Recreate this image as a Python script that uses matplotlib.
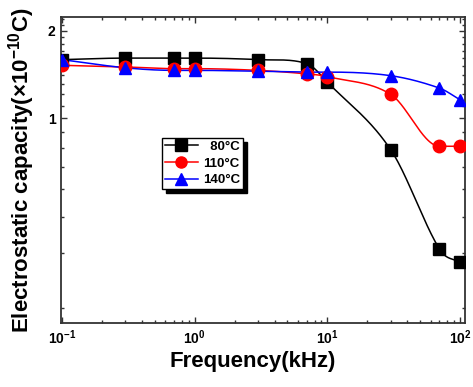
import numpy as np
import matplotlib
matplotlib.use("Agg")
import matplotlib.pyplot as plt
from matplotlib.ticker import FixedLocator, FixedFormatter, NullFormatter

# ---- data ----
freq = [0.1, 0.3, 0.7, 1, 3, 7, 10, 30, 70, 100]
c80 = [1.58, 1.60, 1.60, 1.60, 1.58, 1.53, 1.32, 0.79, 0.41, 0.38]
c110 = [1.51, 1.49, 1.47, 1.47, 1.45, 1.41, 1.38, 1.20, 0.81, 0.81]
c140 = [1.58, 1.48, 1.45, 1.45, 1.44, 1.43, 1.43, 1.39, 1.26, 1.15]
labels = ["  80°C", "110°C", "140°C"]
colors = ["#000000", "#ff0000", "#0000ff"]
markers = ["s", "o", "^"]
xticks_major = [0.1, 1, 10, 100]
xtick_labels = [r"$\mathbf{10^{-1}}$", r"$\mathbf{10^{0}}$", r"$\mathbf{10^{1}}$", r"$\mathbf{10^{2}}$"]
yticks_major = [1, 2]
ytick_labels = ["1", "2"]

plt.rcParams['font.family'] = ['Liberation Sans', 'DejaVu Sans']
plt.rcParams['mathtext.fontset'] = 'custom'
plt.rcParams['mathtext.rm'] = 'Liberation Sans:bold'
plt.rcParams['mathtext.bf'] = 'Liberation Sans:bold'
plt.rcParams['mathtext.it'] = 'Liberation Sans:bold'
plt.rcParams['mathtext.default'] = 'bf'

OFF = 0.14


def fwd(v):
    v = np.asarray(v, dtype=float)
    return np.log10(np.maximum(v - OFF, 1e-9))


def inv(t):
    return 10 ** np.asarray(t, dtype=float) + OFF


def smooth(x, y, xn):
    """Hermite curve through the points (Catmull-Rom tangents, no overshoot)."""
    x = np.asarray(x, float)
    y = np.asarray(y, float)
    h = np.diff(x)
    d = np.diff(y) / h
    n = len(x)
    m = np.zeros(n)
    for k in range(1, n - 1):
        if d[k - 1] * d[k] > 0:
            m[k] = (y[k + 1] - y[k - 1]) / (x[k + 1] - x[k - 1])
    m[0] = d[0]
    m[-1] = d[-1]
    out = np.empty_like(xn)
    idx = np.clip(np.searchsorted(x, xn) - 1, 0, n - 2)
    for i, xv in enumerate(xn):
        k = idx[i]
        t = (xv - x[k]) / h[k]
        h00 = 2 * t**3 - 3 * t**2 + 1
        h10 = t**3 - 2 * t**2 + t
        h01 = -2 * t**3 + 3 * t**2
        h11 = t**3 - t**2
        out[i] = h00 * y[k] + h10 * h[k] * m[k] + h01 * y[k + 1] + h11 * h[k] * m[k + 1]
    return out


fig = plt.figure(figsize=(4.73, 3.87), dpi=100)
ax = fig.add_axes([61 / 473, 64 / 387, 404 / 473, 306 / 387])
ax.set_xscale('log')
ax.set_yscale('function', functions=(fwd, inv))

lx = np.log10(freq)
xs = np.linspace(lx[0], lx[-1], 400)
for ys, lab, col, mk in zip([c80, c110, c140], labels, colors, markers):
    curve = inv(smooth(lx, fwd(ys), xs))
    ax.plot(10 ** xs, curve, color=col, lw=1.1, zorder=2)
    ax.plot(freq, ys, linestyle='none', marker=mk, ms=9, color=col,
            mec=col, zorder=3)
    ax.plot([], [], color=col, lw=1.1, marker=mk, ms=8, mec=col, label=lab)

ax.set_xlim(0.098, 109)
ax.set_ylim(0.2806, 2.239)

ax.xaxis.set_major_locator(FixedLocator(xticks_major))
ax.xaxis.set_major_formatter(FixedFormatter(xtick_labels))
xminor = [m * 10.0 ** e for e in range(-1, 2) for m in range(2, 10)]
ax.xaxis.set_minor_locator(FixedLocator(xminor))
ax.xaxis.set_minor_formatter(NullFormatter())

ax.yaxis.set_major_locator(FixedLocator(yticks_major))
ax.yaxis.set_major_formatter(FixedFormatter(ytick_labels))
yminor = [0.3, 0.4, 0.5, 0.6, 0.7, 0.8, 0.9, 1.1, 1.2, 1.3, 1.4, 1.5,
          1.6, 1.7, 1.8, 1.9, 2.1, 2.2]
ax.yaxis.set_minor_locator(FixedLocator(yminor))
ax.yaxis.set_minor_formatter(NullFormatter())

ax.tick_params(which='both', direction='in', top=True, right=True,
               width=1.0, color='#333333')
ax.tick_params(which='major', length=4.5, labelsize=10, pad=4)
ax.tick_params(which='minor', length=2.5)
for t in ax.get_yticklabels():
    t.set_fontweight('bold')
for s in ax.spines.values():
    s.set_linewidth(1.3)
    s.set_color('#333333')

ax.set_xlabel('Frequency(kHz)', fontsize=16, fontweight='bold')
ax.xaxis.set_label_coords((253 - 61) / 404, -(362 - 323) / 306, transform=ax.transAxes)
ax.xaxis.label.set_va('center')
ax.set_ylabel(r'Electrostatic capacity(×10$^{-10}$C)', fontsize=16, fontweight='bold')
ax.yaxis.set_label_coords((22 - 61) / 404, (323 - 170) / 306, transform=ax.transAxes)
ax.yaxis.label.set_va('center')

leg = ax.legend(loc='upper left', bbox_to_anchor=(0.25, 0.605), borderaxespad=0,
                fontsize=9.5, frameon=True, fancybox=False,
                shadow={'ox': 3, 'oy': -3, 'color': 'black', 'alpha': 1},
                handlelength=2.5, handletextpad=0.4, labelspacing=0.35,
                borderpad=0.2, prop={'weight': 'bold', 'size': 9.5})
leg.get_frame().set_edgecolor('black')
leg.get_frame().set_linewidth(1.0)
leg.get_frame().set_alpha(1)

fig.savefig('out.png', dpi=100)
